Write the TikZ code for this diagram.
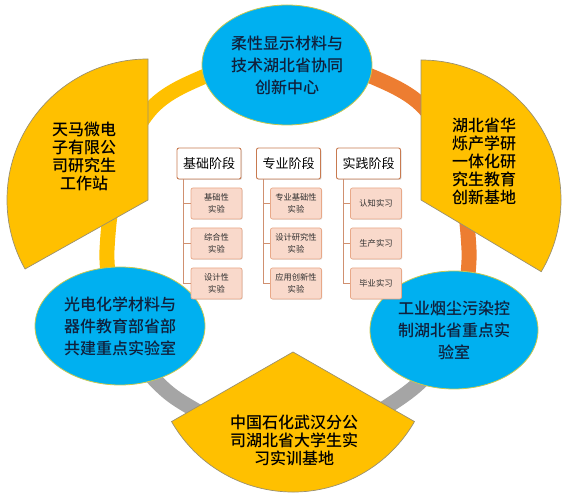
\documentclass[tikz,border=0pt]{standalone}
\usepackage{fontspec}
\newfontfamily\cjk{Noto Sans CJK SC}[BoldFont={Noto Sans CJK SC Medium}]
\usetikzlibrary{shapes.geometric,shadows}
\definecolor{yel}{HTML}{FFC000}
\definecolor{org}{HTML}{ED7D31}
\definecolor{gry}{HTML}{A5A5A5}
\definecolor{bubblue}{HTML}{00B0F0}
\definecolor{bubedge}{HTML}{C8C850}
\definecolor{secedge}{HTML}{9A9070}
\definecolor{bubtext}{HTML}{10203C}
\definecolor{headedge}{HTML}{C87A50}
\definecolor{childedge}{HTML}{E8A888}
\definecolor{childfill}{HTML}{F9D9CB}
\definecolor{childtext}{HTML}{303030}
\definecolor{treecol}{HTML}{D09070}
\begin{document}
\begin{tikzpicture}[x=1pt,y=1pt,
  band/.style={line width=15pt},
  sector/.style={fill=yel, draw=secedge, line width=0.7pt},
  bub/.style={ellipse, fill=bubblue, draw=bubedge, line width=0.8pt, inner sep=0pt,
    text=bubtext, align=center, font=\cjk\bfseries\fontsize{16}{22}\selectfont},
  sectext/.style={align=center, text=black, inner sep=0pt,
    font=\cjk\bfseries\fontsize{16}{18}\selectfont},
  head/.style={draw=headedge, fill=white, rounded corners=2pt, line width=0.9pt,
    minimum width=64pt, minimum height=31pt, inner sep=0pt,
    font=\cjk\fontsize{13}{15}\selectfont,
    drop shadow={shadow xshift=1pt, shadow yshift=-1pt, opacity=0.25}},
  child/.style={draw=childedge, fill=childfill, rounded corners=2pt, line width=0.7pt,
    minimum width=51pt, minimum height=31pt, inner sep=0pt, align=center,
    text=childtext, font=\cjk\fontsize{8.3}{12}\selectfont,
    drop shadow={shadow xshift=0.8pt, shadow yshift=-0.8pt, opacity=0.2}},
  tree/.style={draw=treecol, line width=0.9pt}]
\useasboundingbox (0,0) rectangle (569,500);
% ring
\draw[band, gry] plot[smooth, tension=0.6] coordinates {(112,200) (132,150) (160,115) (190,93) (240,68) (293,58) (345,68) (385,92) (419,117) (447,150) (464,200)};
\draw[band, yel] plot[smooth, tension=0.6] coordinates {(112,200) (107,250) (118,325) (150,390) (203,423) (265,440)};
\draw[band, org] plot[smooth, tension=0.6] coordinates {(464,200) (469,250) (458,325) (426,390) (373,423) (311,440)};
% sectors
\path[sector] (148,300) -- ++(90:141) arc[start angle=90, end angle=209.3, radius=141] -- cycle;
\path[sector] (421,300) -- ++(90:140) arc[start angle=90, end angle=-30.8, radius=140] -- cycle;
\path[sector] (293,148) -- ++(209.8:140) arc[start angle=209.8, end angle=330.2, radius=140] -- cycle;
\node[sectext] (tm) at (84,344) {天马微电\\子有限公\\司研究生\\工作站};
\node[sectext] (hb) at (484,339) {湖北省华\\烁产学研\\一体化研\\究生教育\\创新基地};
\node[sectext] (zs) at (294,60) {中国石化武汉分公\\司湖北省大学生实\\习实训基地};
% ellipses
\node[bub, minimum width=170pt, minimum height=120pt] (top) at (287,435) {柔性显示材料与\\技术湖北省协同\\创新中心};
\node[bub, minimum width=170pt, minimum height=118pt] (lft) at (120,174) {光电化学材料与\\器件教育部省部\\共建重点实验室};
\node[bub, minimum width=168pt, minimum height=118pt] (rgt) at (454,170) {工业烟尘污染控\\制湖北省重点实\\验室};
% centre panel
\node[head] (h1) at (209,336.5) {基础阶段};
\node[head] (h2) at (288.5,336.5) {专业阶段};
\node[head] (h3) at (368.5,336.5) {实践阶段};
\foreach \c/\x/\a/\b/\d in {1/216.5/基础性\\实验/综合性\\实验/设计性\\实验,
                             2/296/专业基础性\\实验/设计研究性\\实验/应用创新性\\实验,
                             3/376/认知实习/生产实习/毕业实习}{
  \node[child] (c\c1) at (\x,296.5) {\a};
  \node[child] (c\c2) at (\x,256.5) {\b};
  \node[child] (c\c3) at (\x,216.5) {\d};
  \draw[tree] ([xshift=7pt]h\c.south west) |- (c\c1.west);
  \draw[tree] ([xshift=7pt]h\c.south west) |- (c\c2.west);
  \draw[tree] ([xshift=7pt]h\c.south west) |- (c\c3.west);
}
\end{tikzpicture}
\end{document}
